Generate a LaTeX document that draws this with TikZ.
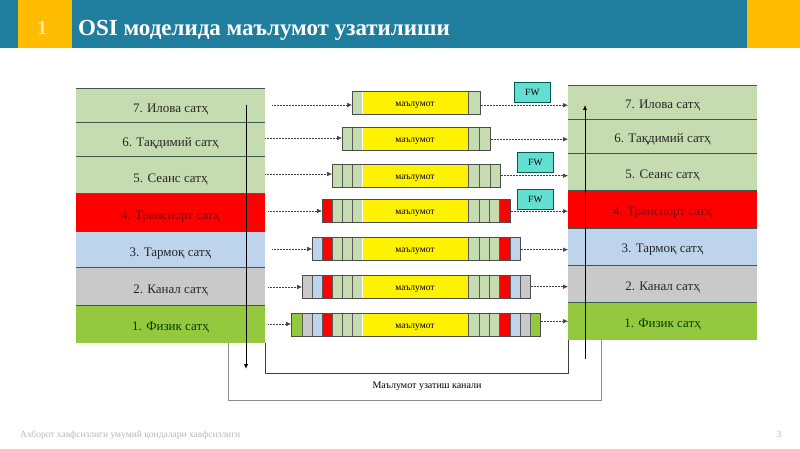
\documentclass[tikz,border=0pt]{standalone}
\usepackage{fontspec}
\setmainfont{Liberation Serif}
\definecolor{hdr}{HTML}{1F7E9E}
\definecolor{amber}{HTML}{FFBC00}
\definecolor{lgreen}{HTML}{C5DBB0}
\definecolor{lred}{HTML}{FF0000}
\definecolor{lblue}{HTML}{BDD4EC}
\definecolor{lgrey}{HTML}{C9C9C9}
\definecolor{lphys}{HTML}{93C83F}
\definecolor{fwc}{HTML}{62DFD0}
\definecolor{edge}{HTML}{3E5A48}
\usetikzlibrary{arrows.meta}
\tikzset{
 x=1pt,y=-1pt,
 layer/.style={fill=#1,minimum width=189pt,anchor=north west,inner sep=0pt},
 layertext/.style={font=\fontsize{13}{13}\selectfont,inner sep=0pt},
 datatext/.style={font=\fontsize{9.5}{10}\selectfont,inner sep=0pt},
 barbox/.style={draw=black!70,line width=.7pt,anchor=north west,minimum height=23pt,inner sep=0pt},
 fwbox/.style={draw=teal!70!black,fill=fwc,line width=.7pt,minimum width=36pt,minimum height=20pt,inner sep=0pt,anchor=north west,font=\fontsize{9.5}{10}\selectfont},
 flow/.style={densely dotted,black!75,line width=.5pt,-{Latex[length=5pt,width=4.5pt]}},
 vert/.style={black,line width=1pt,-{Latex[length=5pt,width=4.5pt]}},
 frame/.style={line width=.6pt},
 laysep/.style={edge,line width=.6pt},
}
\newcommand{\laybox}[8]{% name,x,y,height,color,text,textcolor,text shift
 \node[layer=#5,minimum height=#4pt] (#1) at (#2,#3) {};
 \draw[laysep] (#1.north west) -- (#1.north east);
 \node[layertext,text=#7] (#1t) at (#2+94.5,#3+#4/2+#8) {#6};
}
\newcommand{\cells}[2]{% y, list x0/x1/color
 \foreach \xa/\xb/\cc in {#2}{
  \fill[\cc] (\xa,#1) rectangle (\xb,#1+23);
  \draw[black!65,line width=.5pt] (\xa,#1) -- (\xa,#1+23);
 }
}
\newcommand{\databar}[5]{% name,y,x0,x1,cells
 \cells{#2}{#5}
 \fill[yellow] (362.5,#2) rectangle (468,#2+23);
 \node[barbox,minimum width=#4pt-#3pt] (#1) at (#3,#2) {};
 \node[datatext] (#1t) at (415,#2+14) {маълумот};
}
\begin{document}
\begin{tikzpicture}
\useasboundingbox (0,0) rectangle (800,449);
\fill[white] (0,0) rectangle (800,449);
% header
\fill[hdr] (0,0) rectangle (800,48);
\fill[amber] (18,0) rectangle (72,48);
\fill[amber] (747,0) rectangle (800,48);
\node[inner sep=0pt,font=\bfseries\fontsize{20}{20}\selectfont,text=amber!35!white] (num) at (42,28) {1};
\node[inner sep=0pt,anchor=base west,font=\bfseries\fontsize{23}{23}\selectfont,text=white] (title) at (78,36) {OSI моделида маълумот узатилиши};
% frames
\coordinate (fo1) at (228,343); \coordinate (fo2) at (228,400); \coordinate (fo3) at (601,400); \coordinate (fo4) at (601,340);
\coordinate (fi1) at (265,343); \coordinate (fi2) at (265,373); \coordinate (fi3) at (568,373); \coordinate (fi4) at (568,340);
\draw[frame,black!45] (fo1) -- (fo2) -- (fo3) -- (fo4);
\draw[frame,black!75] (fi1) -- (fi2) -- (fi3) -- (fi4);
\node[inner sep=0pt,font=\fontsize{10}{11}\selectfont] (chan) at (427,386) {Маълумот узатиш канали};
% left layers
\laybox{l7}{76}{88}{34}{lgreen}{7. Илова сатҳ}{black!85}{4.5}
\laybox{l6}{76}{122}{34}{lgreen}{6. Тақдимий сатҳ}{black!85}{4.5}
\laybox{l5}{76}{156}{37}{lgreen}{5. Сеанс сатҳ}{black!85}{4.5}
\laybox{l4}{76}{193}{38}{lred}{4. Транспорт сатҳ}{red!50!black}{4.5}
\laybox{l3}{76}{231}{36}{lblue}{3. Тармоқ сатҳ}{black!85}{4.5}
\laybox{l2}{76}{267}{38}{lgrey}{2. Канал сатҳ}{black!85}{4}
\laybox{l1}{76}{305}{38}{lphys}{1. Физик сатҳ}{green!25!black}{3.5}
% right layers
\laybox{r7}{568}{85}{34}{lgreen}{7. Илова сатҳ}{black!85}{3.5}
\laybox{r6}{568}{119}{34}{lgreen}{6. Тақдимий сатҳ}{black!85}{3.5}
\laybox{r5}{568}{153}{37}{lgreen}{5. Сеанс сатҳ}{black!85}{3.5}
\laybox{r4}{568}{190}{38}{lred}{4. Транспорт сатҳ}{red!50!black}{3.5}
\laybox{r3}{568}{228}{37}{lblue}{3. Тармоқ сатҳ}{black!85}{3.5}
\laybox{r2}{568}{265}{37}{lgrey}{2. Канал сатҳ}{black!85}{3.5}
\laybox{r1}{568}{302}{38}{lphys}{1. Физик сатҳ}{green!25!black}{3.5}
% bars
\databar{b7}{91}{352}{480}{352/362/lgreen,468/480/lgreen}
\databar{b6}{127}{342}{490}{342/352/lgreen,352/362/lgreen,468/479/lgreen,479/490/lgreen}
\databar{b5}{164}{332}{500}{332/342/lgreen,342/352/lgreen,352/362/lgreen,468/479/lgreen,479/490/lgreen,490/500/lgreen}
\databar{b4}{199}{322}{510}{322/332/lred,332/342/lgreen,342/352/lgreen,352/362/lgreen,468/479/lgreen,479/489/lgreen,489/499/lgreen,499/510/lred}
\databar{b3}{237}{312}{520}{312/322/lblue,322/332/lred,332/342/lgreen,342/352/lgreen,352/362/lgreen,468/479/lgreen,479/489/lgreen,489/499/lgreen,499/510/lred,510/520/lblue}
\databar{b2}{275}{302}{530}{302/312/lgrey,312/322/lblue,322/332/lred,332/342/lgreen,342/352/lgreen,352/362/lgreen,468/479/lgreen,479/489/lgreen,489/499/lgreen,499/510/lred,510/520/lblue,520/530/lgrey}
\databar{b1}{313}{291}{540}{291/302/lphys,302/312/lgrey,312/322/lblue,322/332/lred,332/342/lgreen,342/352/lgreen,352/362/lgreen,468/479/lgreen,479/489/lgreen,489/499/lgreen,499/510/lred,510/520/lblue,520/530/lgrey,530/540/lphys}
% FW
\node[fwbox] (fw1) at (514,82) {FW};
\node[fwbox] (fw2) at (517,152) {FW};
\node[fwbox] (fw3) at (517,189) {FW};
% flows
\foreach \n/\sx/\sy in {b7/272/105,b6/265/138,b5/265/174,b4/268/211,b3/272/249,b2/268/287,b1/268/324}{
 \coordinate (s\n) at (\sx,\sy);
 \draw[flow] (s\n) -- (\n.west |- s\n);
}
\draw[flow] (b7.east |- r7.west) ++(0,3) coordinate (q7) -- (r7.west |- q7);
\draw[flow] (b6.east |- r6.west) ++(0,3) coordinate (q6) -- (r6.west |- q6);
\draw[flow] (b5.east |- r5.west) ++(0,4) coordinate (q5) -- (r5.west |- q5);
\draw[flow] (b4.east |- r4.west) ++(0,2) coordinate (q4) -- (r4.west |- q4);
\draw[flow] (b3.east |- r3.west) ++(0,3) coordinate (q3) -- (r3.west |- q3);
\draw[flow] (b2.east |- r2.west) ++(0,3) coordinate (q2) -- (r2.west |- q2);
\draw[flow] (b1.east |- r1.west) -- (r1.west);
% verticals
\coordinate (va) at (246,105); \coordinate (vb) at (246,369);
\coordinate (vc) at (585,359); \coordinate (vd) at (585,105);
\draw[vert] (va) -- (vb);
\draw[vert] (vc) -- (vd);
% footer
\node[inner sep=0pt,anchor=base west,font=\fontsize{9.5}{10}\selectfont,text=black!28] (foot) at (20,437) {Ахборот хавфсизлиги умумий қоидалари хавфсизлиги};
\node[inner sep=0pt,font=\fontsize{9.5}{10}\selectfont,text=black!28] (page) at (779,434) {3};
\end{tikzpicture}
\end{document}
